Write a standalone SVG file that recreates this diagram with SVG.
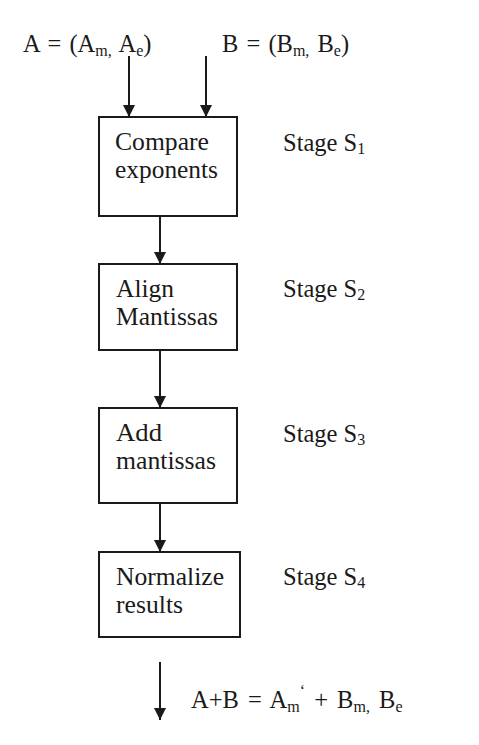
<svg xmlns="http://www.w3.org/2000/svg" width="479" height="745" viewBox="0 0 479 745">
<defs>
<style>
text{font-family:"Liberation Serif","Times New Roman",serif;font-size:24.5px;fill:#1a1a1a}
.box{fill:#fff;stroke:#1a1a1a;stroke-width:2}
.conn line{stroke:#1a1a1a;stroke-width:2}
.sub{font-size:16px}
.f{word-spacing:2px}
</style>
<marker id="ah" viewBox="0 0 12 12" refX="12" refY="6" markerWidth="13" markerHeight="12" markerUnits="userSpaceOnUse" orient="auto">
<path d="M0,0 L12,6 L0,12 z" fill="#1a1a1a"/>
</marker>
</defs>
<rect width="479" height="745" fill="#fff"/>
<g id="inputA"><text class="f" x="23" y="52">A = (A<tspan class="sub" dy="4">m,</tspan><tspan dy="-4"> A</tspan><tspan class="sub" dy="4">e</tspan><tspan dy="-4">)</tspan></text></g>
<g id="inputB"><text class="f" x="222" y="52">B = (B<tspan class="sub" dy="4">m,</tspan><tspan dy="-4"> B</tspan><tspan class="sub" dy="4">e</tspan><tspan dy="-4">)</tspan></text></g>
<g id="s1">
<rect class="box" x="99" y="117" width="138" height="99"/>
<text x="115" y="150" textLength="94" lengthAdjust="spacingAndGlyphs">Compare</text>
<text x="115" y="178" textLength="103" lengthAdjust="spacingAndGlyphs">exponents</text>
<text x="283" y="151">Stage S<tspan class="sub" dy="3">1</tspan></text>
</g>
<g id="s2">
<rect class="box" x="99" y="264" width="138" height="86"/>
<text x="116" y="297" textLength="58" lengthAdjust="spacingAndGlyphs">Align</text>
<text x="116" y="325" textLength="102" lengthAdjust="spacingAndGlyphs">Mantissas</text>
<text x="283" y="297">Stage S<tspan class="sub" dy="3">2</tspan></text>
</g>
<g id="s3">
<rect class="box" x="99" y="408" width="138" height="95"/>
<text x="116" y="441" textLength="46" lengthAdjust="spacingAndGlyphs">Add</text>
<text x="116" y="469" textLength="100" lengthAdjust="spacingAndGlyphs">mantissas</text>
<text x="283" y="442">Stage S<tspan class="sub" dy="3">3</tspan></text>
</g>
<g id="s4">
<rect class="box" x="99" y="552" width="141" height="85"/>
<text x="116" y="585" textLength="108" lengthAdjust="spacingAndGlyphs">Normalize</text>
<text x="116" y="613" textLength="67" lengthAdjust="spacingAndGlyphs">results</text>
<text x="283" y="585">Stage S<tspan class="sub" dy="3">4</tspan></text>
</g>
<g id="output"><text class="f" x="191" y="708" style="word-spacing:3px">A+B = A<tspan class="sub" dy="4">m</tspan><tspan class="sub" dy="-16" font-size="12">‘</tspan><tspan dy="12"> + B</tspan><tspan class="sub" dy="4">m,</tspan><tspan dy="-4"> B</tspan><tspan class="sub" dy="4">e</tspan></text></g>
<g class="conn" id="connectors">
<line x1="129" y1="56" x2="129" y2="117" marker-end="url(#ah)"/>
<line x1="206" y1="56" x2="206" y2="117" marker-end="url(#ah)"/>
<line x1="160" y1="216" x2="160" y2="264" marker-end="url(#ah)"/>
<line x1="160" y1="350" x2="160" y2="408" marker-end="url(#ah)"/>
<line x1="160" y1="503" x2="160" y2="552" marker-end="url(#ah)"/>
<line x1="160" y1="662" x2="160" y2="720" marker-end="url(#ah)"/>
</g>
</svg>
